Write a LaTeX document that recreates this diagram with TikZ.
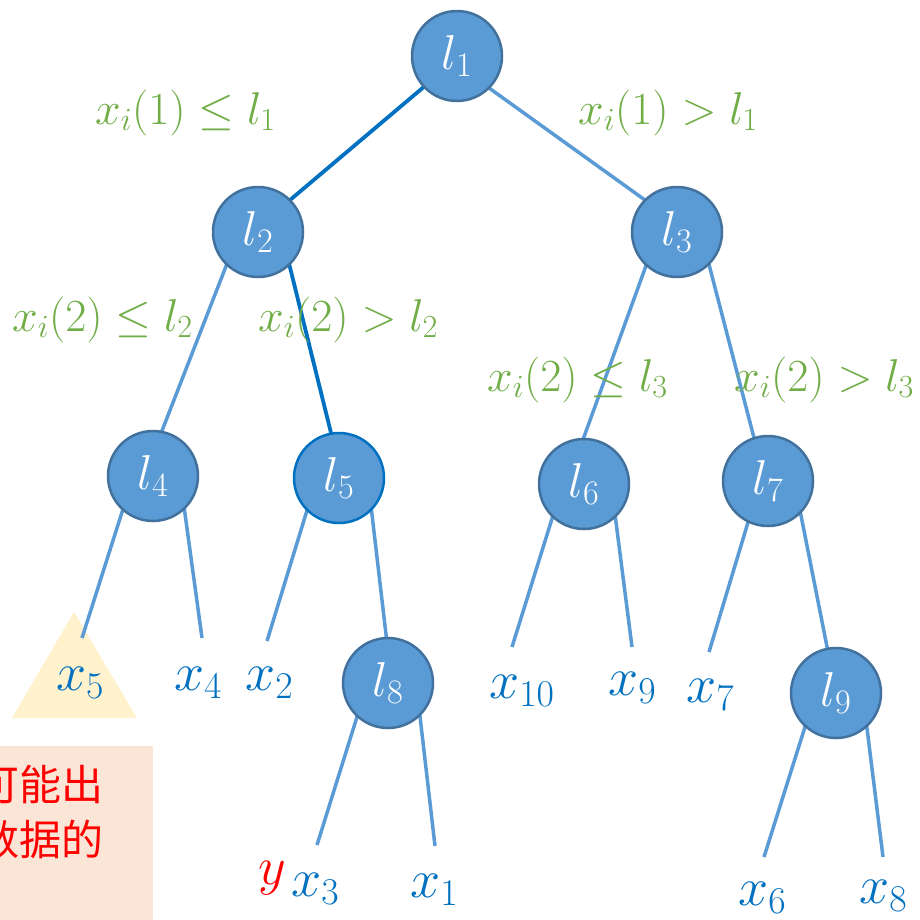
\RequirePackage{fix-cm}
\documentclass[tikz,border=0pt]{standalone}
\usepackage{fontspec}
\newfontfamily\cjk{Noto Sans CJK SC}
\usetikzlibrary{backgrounds}
\definecolor{cfill}{HTML}{5B9BD5}
\definecolor{cborder}{HTML}{41719C}
\definecolor{clight}{HTML}{5B9BD5}
\definecolor{cdark}{HTML}{0070C0}
\definecolor{cgreen}{HTML}{70AD47}
\definecolor{ctri}{HTML}{FFF2CC}
\definecolor{cbox}{HTML}{FBE5D6}
\begin{document}
\begin{tikzpicture}[x=1pt,y=-1pt,
  tnode/.style={circle, fill=cfill, draw=cborder, line width=2.5pt, minimum size=90pt, inner sep=0pt, outer sep=0pt, text=white, font=\fontsize{49}{56}\selectfont},
  edgeL/.style={draw=clight, line width=3.5pt},
  edgeD/.style={draw=cdark, line width=3.8pt},
  leaf/.style={anchor=base west, inner sep=0pt, text=cdark, font=\fontsize{54}{62}\selectfont},
  cond/.style={anchor=base west, inner sep=0pt, text=cgreen, font=\fontsize{46}{54}\selectfont},
  note/.style={anchor=base east, inner sep=0pt, text=red, font=\cjk\fontsize{42}{50}\selectfont}]
\useasboundingbox (0,0) rectangle (920,919);
\clip (0,0) rectangle (920,919);

% tree nodes
\node[tnode] (l1) at (457,56) {$l_1$};
\node[tnode] (l2) at (258,232) {$l_2$};
\node[tnode] (l3) at (677,232) {$l_3$};
\node[tnode] (l4) at (153,476) {$l_4$};
\node[tnode, draw=cdark] (l5) at (339,478) {$l_5$};
\node[tnode] (l6) at (584,484) {$l_6$};
\node[tnode] (l7) at (768,481) {$l_7$};
\node[tnode] (l8) at (388,683) {$l_8$};
\node[tnode] (l9) at (836,693) {$l_9$};

% leaves
\node[leaf] (x5) at (56,690) {$x_5$};
\node[leaf] (x4) at (174,690) {$x_4$};
\node[leaf] (x2) at (245,690) {$x_2$};
\node[leaf] (x10) at (489,698) {$x_{10}$};
\node[leaf] (x9) at (608,695) {$x_9$};
\node[leaf] (x7) at (686,702) {$x_7$};
\node[leaf] (x3) at (291,896) {$x_3$};
\node[leaf] (x1) at (410,897) {$x_1$};
\node[leaf] (x6) at (738,905) {$x_6$};
\node[leaf] (x8) at (859,903) {$x_8$};
\node[leaf, text=red] (yy) at (258,884) {$y$};

% edge end points above leaves
\coordinate (e5) at (82,638);
\coordinate (e4) at (202,638);
\coordinate (e2) at (267,641);
\coordinate (e10) at (512,647);
\coordinate (e9) at (632,647);
\coordinate (e7) at (709,652);
\coordinate (e3) at (317,845);
\coordinate (e1) at (435,846);
\coordinate (e6) at (764,857);
\coordinate (e8) at (883,857);

% conditions
\node[cond] (c1) at (95,124) {$x_i(1)\le l_1$};
\node[cond] (c2) at (578,124) {$x_i(1)>l_1$};
\node[cond] (c3) at (12,331) {$x_i(2)\le l_2$};
\node[cond] (c4) at (258,331) {$x_i(2)>l_2$};
\node[cond] (c5) at (487,391) {$x_i(2)\le l_3$};
\node[cond] (c6) at (734,391) {$x_i(2)>l_3$};

% note
\node[note] (n1) at (104,800) {可能出};
\node[note] (n2) at (104,855) {数据的};

\begin{scope}[on background layer]
  \fill[cbox] (0,746) rectangle (153,930);
  \fill[ctri] (74,612) -- (137,718) -- (12,718) -- cycle;
  \draw[edgeD] (l1.223) -- (l2.45);
  \draw[edgeL] (l1.-45) -- (l3.135);
  \draw[edgeL] (l2.226) -- (l4.79);
  \draw[edgeD] (l2.-46) -- (l5.100);
  \draw[edgeL] (l3.227) -- (l6.91);
  \draw[edgeL] (l3.-45) -- (l7.108);
  \draw[edgeL] (l4.228) -- (e5);
  \draw[edgeL] (l4.-46) -- (e4);
  \draw[edgeL] (l5.225) -- (e2);
  \draw[edgeL] (l5.-44) -- (l8.92);
  \draw[edgeL] (l6.226) -- (e10);
  \draw[edgeL] (l6.-46) -- (e9);
  \draw[edgeL] (l7.244) -- (e7);
  \draw[edgeL] (l7.-44) -- (l9.101);
  \draw[edgeL] (l8.227) -- (e3);
  \draw[edgeL] (l8.-45) -- (e1);
  \draw[edgeL] (l9.-133) -- (e6);
  \draw[edgeL] (l9.-47) -- (e8);
\end{scope}
\end{tikzpicture}
\end{document}
